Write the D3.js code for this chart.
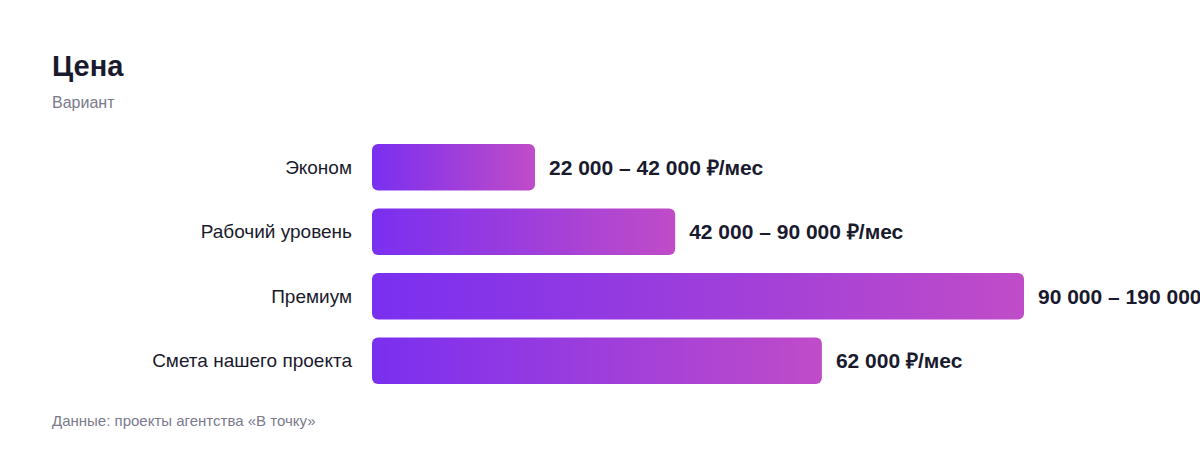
<!DOCTYPE html>
<html><head><meta charset="utf-8">
<script src="https://cdn.jsdelivr.net/npm/d3@7"></script>
<style>
html,body{margin:0;padding:0;background:#fff;overflow:hidden;}
svg{display:block;font-family:"Liberation Sans",Arial,Helvetica,sans-serif;}
</style></head>
<body>
<svg id="chart" width="1200" height="456"></svg>
<script>
const categories = ["Эконом", "Рабочий уровень", "Премиум", "Смета нашего проекта"];
const values = [25, 46.5, 100, 69];
const valueLabels = ["22 000 – 42 000 ₽/мес", "42 000 – 90 000 ₽/мес", "90 000 – 190 000 ₽/мес", "62 000 ₽/мес"];
const title = "Цена";
const subtitle = "Вариант";
const footer = "Данные: проекты агентства «В точку»";

(function(){
const svg = d3.select("#chart");
const mLeft = 372, mRight = 1024, mTop = 136, mBottom = 392;

const defs = svg.append("defs");
const grad = defs.append("linearGradient").attr("id","barGrad")
  .attr("x1","0%").attr("y1","0%").attr("x2","100%").attr("y2","0%");
grad.append("stop").attr("offset","0%").attr("stop-color","#7a2ff0");
grad.append("stop").attr("offset","100%").attr("stop-color","#c04cc8");

const x = d3.scaleLinear().domain([0, d3.max(values)]).range([mLeft, mRight]);
const y = d3.scaleBand().domain(categories).range([mTop, mBottom]).paddingInner(0.28125).paddingOuter(0.125);

svg.append("text").attr("x",52).attr("y",76).attr("font-size",29).attr("font-weight",700)
  .attr("fill","#1a1a2e").text(title);
svg.append("text").attr("x",52).attr("y",108).attr("font-size",16)
  .attr("fill","#7a7a8c").text(subtitle);

const data = categories.map((c,i)=>({c, v: values[i], l: valueLabels[i]}));

svg.selectAll("rect.bar").data(data).join("rect").attr("class","bar")
  .attr("x", x(0)).attr("y", d=>y(d.c))
  .attr("width", d=>x(d.v)-x(0)).attr("height", y.bandwidth())
  .attr("rx",6).attr("ry",6).attr("fill","url(#barGrad)");

svg.selectAll("text.cat").data(data).join("text").attr("class","cat")
  .attr("x", mLeft-20).attr("y", d=>y(d.c)+y.bandwidth()/2).attr("dy","0.35em")
  .attr("text-anchor","end").attr("font-size",19).attr("fill","#1a1a2e").text(d=>d.c);

svg.selectAll("text.val").data(data).join("text").attr("class","val")
  .attr("x", d=>x(d.v)+14).attr("y", d=>y(d.c)+y.bandwidth()/2).attr("dy","0.35em")
  .attr("font-size",21).attr("font-weight",700).attr("fill","#1a1a2e").text(d=>d.l);

svg.append("text").attr("x",52).attr("y",426).attr("font-size",15)
  .attr("fill","#7a7a8c").text(footer);
})();
</script>
</body></html>
